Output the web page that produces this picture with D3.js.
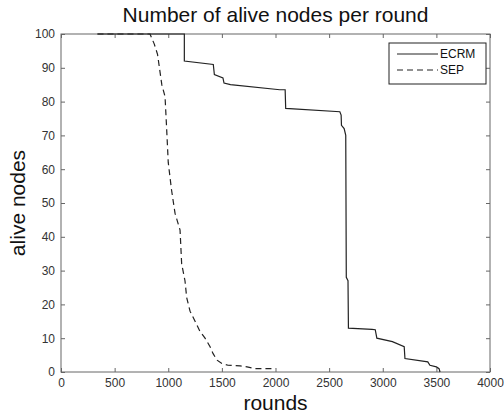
<!DOCTYPE html>
<html>
<head>
<meta charset="utf-8">
<script src="https://cdn.jsdelivr.net/npm/d3@7/dist/d3.min.js"></script>
<style>
  html, body { margin: 0; padding: 0; background: #fff; }
  svg { display: block; font-family: "Liberation Sans", Arial, sans-serif; }
</style>
</head>
<body>
<div id="chart"></div>
<script>
// ── Data (round, alive nodes) ─────────────────────────────
var ECRM = [
  [340, 100], [1150, 100], [1150, 92], [1420, 91], [1430, 88],
  [1510, 87], [1520, 85.5], [1580, 85], [2040, 83.5], [2090, 83.5],
  [2095, 78], [2600, 77], [2612, 76], [2615, 73], [2640, 72],
  [2655, 70], [2660, 28], [2676, 27], [2680, 13], [2900, 12.6],
  [2930, 12.5], [2945, 10], [3090, 9], [3200, 7.5], [3207, 4],
  [3420, 3], [3440, 2], [3500, 1.5], [3525, 1], [3534, 0]
];
var SEP = [
  [340, 100], [830, 100], [870, 97], [900, 94], [940, 85],
  [970, 81.5], [985, 72], [1000, 62], [1030, 54], [1063, 47],
  [1110, 42], [1125, 32], [1156, 27], [1172, 22], [1203, 18],
  [1250, 15], [1296, 12], [1343, 10], [1390, 7.5], [1417, 5.5],
  [1455, 3.5], [1500, 2.5], [1557, 2], [1670, 1.8], [1735, 1.5],
  [1810, 1], [2000, 1]
];
var SERIES_NAMES = ['ECRM', 'SEP'];
var X_TICKS = [0, 500, 1000, 1500, 2000, 2500, 3000, 3500, 4000];
var Y_TICKS = [0, 10, 20, 30, 40, 50, 60, 70, 80, 90, 100];

var W = 504, H = 415;
var M = { left: 61, right: 14, top: 34, bottom: 43 };
var LINE = '#222';
var FRAME = '#666';
var TICK_TEXT = '#333';

var svg = d3.select('#chart').append('svg')
  .attr('width', W).attr('height', H);

var x = d3.scaleLinear().domain([0, 4000]).range([M.left, W - M.right]);
var y = d3.scaleLinear().domain([0, 100]).range([H - M.bottom, M.top]);

// ── Axes (matlab-style box with inward ticks) ────────────
function styleAxis(g, showText) {
  g.select('.domain').remove();
  g.selectAll('.tick line').attr('stroke', FRAME);
  g.selectAll('.tick text')
    .attr('fill', TICK_TEXT)
    .attr('font-size', '12px')
    .style('display', showText ? null : 'none');
}

svg.append('g')
  .attr('transform', 'translate(0,' + y(0) + ')')
  .call(d3.axisBottom(x).tickValues(X_TICKS).tickFormat(d3.format('d'))
    .tickSizeInner(-4).tickSizeOuter(0).tickPadding(6))
  .call(function(g) { styleAxis(g, true); });

svg.append('g')
  .attr('transform', 'translate(0,' + y(100) + ')')
  .call(d3.axisTop(x).tickValues(X_TICKS).tickSizeInner(-4).tickSizeOuter(0))
  .call(function(g) { styleAxis(g, false); });

svg.append('g')
  .attr('transform', 'translate(' + x(0) + ',0)')
  .call(d3.axisLeft(y).tickValues(Y_TICKS).tickSizeInner(-4).tickSizeOuter(0).tickPadding(6))
  .call(function(g) { styleAxis(g, true); });

svg.append('g')
  .attr('transform', 'translate(' + x(4000) + ',0)')
  .call(d3.axisRight(y).tickValues(Y_TICKS).tickSizeInner(-4).tickSizeOuter(0))
  .call(function(g) { styleAxis(g, false); });

svg.append('rect')
  .attr('x', x(0)).attr('y', y(100))
  .attr('width', x(4000) - x(0)).attr('height', y(0) - y(100))
  .attr('fill', 'none').attr('stroke', FRAME).attr('stroke-width', 1);

// ── Lines ────────────────────────────────────────────────
var line = d3.line()
  .x(function(d) { return x(d[0]); })
  .y(function(d) { return y(d[1]); });

svg.append('path').datum(ECRM)
  .attr('d', line).attr('fill', 'none')
  .attr('stroke', LINE).attr('stroke-width', 1.2);

svg.append('path').datum(SEP)
  .attr('d', line).attr('fill', 'none')
  .attr('stroke', LINE).attr('stroke-width', 1.2)
  .attr('stroke-dasharray', '6,4');

// ── Labels ───────────────────────────────────────────────
svg.append('text')
  .attr('x', (x(0) + x(4000)) / 2).attr('y', 22)
  .attr('text-anchor', 'middle').attr('font-size', '21px').attr('fill', '#111')
  .text('Number of alive nodes per round');

svg.append('text')
  .attr('x', (x(0) + x(4000)) / 2).attr('y', 410)
  .attr('text-anchor', 'middle').attr('font-size', '21px').attr('fill', '#111')
  .text('rounds');

svg.append('text')
  .attr('transform', 'translate(25,' + (y(0) + y(100)) / 2 + ') rotate(-90)')
  .attr('text-anchor', 'middle').attr('font-size', '21px').attr('fill', '#111')
  .text('alive nodes');

// ── Legend ───────────────────────────────────────────────
var legend = svg.append('g').attr('transform', 'translate(389,43)');
legend.append('rect')
  .attr('width', 97).attr('height', 41)
  .attr('fill', '#fff').attr('stroke', '#222').attr('stroke-width', 1);

SERIES_NAMES.forEach(function(name, i) {
  var ly = 11 + i * 16;
  legend.append('line')
    .attr('x1', 8).attr('x2', 49).attr('y1', ly).attr('y2', ly)
    .attr('stroke', LINE).attr('stroke-width', 1)
    .attr('stroke-dasharray', i === 1 ? '6,4' : null);
  legend.append('text')
    .attr('x', 51).attr('y', ly).attr('dy', '0.35em')
    .attr('font-size', '12px').attr('fill', '#111')
    .text(name);
});
</script>
</body>
</html>
